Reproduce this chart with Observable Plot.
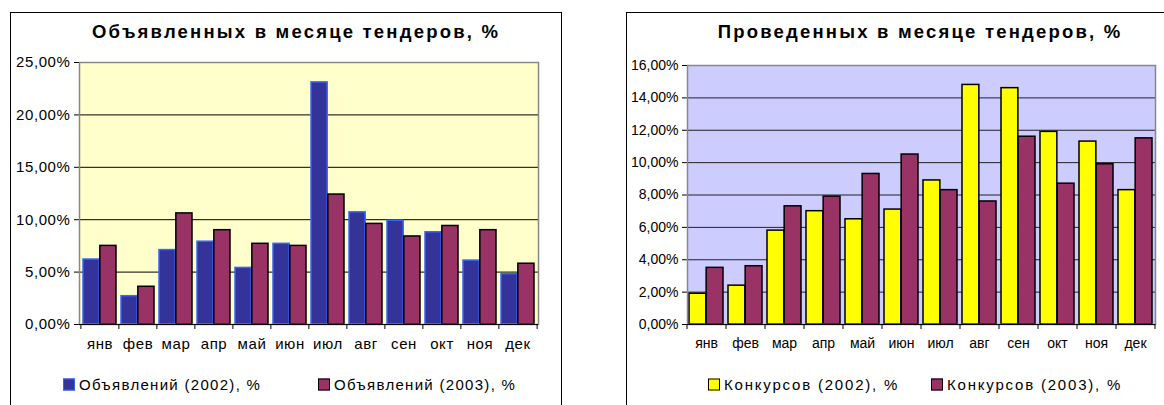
<!DOCTYPE html>
<html><head><meta charset="utf-8">
<script src="https://cdn.jsdelivr.net/npm/d3@7"></script>
<script src="https://cdn.jsdelivr.net/npm/@observablehq/plot@0.6"></script>
<style>
html,body{margin:0;padding:0;background:#fff;overflow:hidden;width:1164px;height:405px;font-family:"Liberation Sans",Arial,sans-serif;color:#000}
.frame{position:absolute;border:1px solid #000;box-sizing:border-box}
.title{position:absolute;font-weight:bold;font-size:18.5px;letter-spacing:2.2px;white-space:nowrap;transform:translate(-50%,-50%)}
.chart{position:absolute}
.leg{position:absolute;font-size:15px;letter-spacing:1.3px;white-space:nowrap;transform:translateY(-50%);display:flex;align-items:center}
.leg.r{letter-spacing:1.8px}
.sw{display:inline-block;width:10px;height:10px;margin-right:4px;box-sizing:content-box}
#c1 svg text{font-size:15px !important;letter-spacing:0.6px;font-family:"Liberation Sans",Arial,sans-serif}
#c2 svg text{font-size:14px !important;letter-spacing:0px;font-family:"Liberation Sans",Arial,sans-serif}
</style></head><body>
<div class="frame" style="left:10px;top:12px;width:552px;height:420px"></div>
<div class="frame" style="left:626px;top:12px;width:600px;height:420px"></div>
<div class="title" style="left:296px;top:32px">Объявленных в месяце тендеров, %</div>
<div class="title" style="left:920px;top:32px">Проведенных в месяце тендеров, %</div>
<div id="c1" class="chart" style="left:0;top:50px"></div>
<div id="c2" class="chart" style="left:626px;top:50px"></div>
<div class="leg" style="left:63px;top:384px"><span class="sw" style="background:#333399;border:1px solid #3366ff"></span>Объявлений (2002), %</div>
<div class="leg" style="left:318px;top:384px"><span class="sw" style="background:#993366;border:1px solid #000"></span>Объявлений (2003), %</div>
<div class="leg r" style="left:708px;top:384px"><span class="sw" style="background:#ffff00;border:1px solid #000"></span>Конкурсов (2002), %</div>
<div class="leg r" style="left:931px;top:384px"><span class="sw" style="background:#993366;border:1px solid #000"></span>Конкурсов (2003), %</div>
<script>
const months = ["янв","фев","мар","апр","май","июн","июл","авг","сен","окт","ноя","дек"];
const announced2002 = [6.2, 2.7, 7.1, 7.9, 5.4, 7.7, 23.1, 10.7, 9.9, 8.8, 6.1, 4.8];
const announced2003 = [7.5, 3.6, 10.6, 9.0, 7.7, 7.5, 12.4, 9.6, 8.4, 9.4, 9.0, 5.8];
const held2002 = [1.9, 2.4, 5.8, 7.0, 6.5, 7.1, 8.9, 14.8, 14.6, 11.9, 11.3, 8.3];
const held2003 = [3.5, 3.6, 7.3, 7.9, 9.3, 10.5, 8.3, 7.6, 11.6, 8.7, 9.9, 11.5];
const yTicksLeft = [0, 5, 10, 15, 20, 25];
const yTicksRight = [0, 2, 4, 6, 8, 10, 12, 14, 16];

const fmt = d => d.toFixed(2).replace(".", ",") + "%";

function chart({width, height, ml, mr, mt, mb, ymax, ticks, a, b, colA, strokeA, colB, bg, grid}) {
  const pi = 0.12, po = 0.06;
  const plotW = width - ml - mr;
  const step = plotW / (months.length - pi + 2 * po);
  const half = step * (1 - pi) / 2;
  const rows = months.map((m, i) => ({m, a: a[i], b: b[i]}));
  return Plot.plot({
    width, height,
    marginLeft: ml, marginRight: mr, marginTop: mt, marginBottom: mb,
    style: {fontFamily: "'Liberation Sans', Arial, sans-serif", fontSize: "14px", color: "#000", background: "transparent", overflow: "visible"},
    x: {type: "band", domain: months, paddingInner: pi, paddingOuter: po, label: null, tickSize: 0, tickPadding: 14},
    y: {domain: [0, ymax], ticks, tickFormat: fmt, label: null, tickSize: 5, tickPadding: 4, line: true},
    marks: [
      Plot.frame({fill: bg}),
      Plot.ruleY(ticks, {stroke: grid, strokeWidth: 1}),
      Plot.barY(rows, {x: "m", y: "a", fill: colA, stroke: strokeA, strokeWidth: 1.5, insetRight: half}),
      Plot.barY(rows, {x: "m", y: "b", fill: colB, stroke: "#000", strokeWidth: 1.5, insetLeft: half}),
      Plot.frame({stroke: "#888", strokeWidth: 1.5}),
      Plot.ruleY([0], {stroke: "#000", strokeWidth: 1}),
      Plot.ruleX(months, {x: d => d, y1: 0, y2: 0, insetBottom: -5, dx: -step / 2, stroke: "#000"}),
      Plot.ruleX(months.slice(-1), {x: d => d, y1: 0, y2: 0, insetBottom: -5, dx: step / 2, stroke: "#000"})
    ]
  });
}

document.getElementById("c1").append(chart({
  width: 561, height: 315, ml: 79, mr: 23, mt: 12, mb: 41, ymax: 25, ticks: yTicksLeft,
  a: announced2002, b: announced2003, colA: "#333399", strokeA: "#3366ff", colB: "#993366", bg: "#ffffcc", grid: "#000"
}));
document.getElementById("c2").append(chart({
  width: 538, height: 315, ml: 61, mr: 9, mt: 15, mb: 41, ymax: 16, ticks: yTicksRight,
  a: held2002, b: held2003, colA: "#ffff00", strokeA: "#000", colB: "#993366", bg: "#ccccff", grid: "#222"
}));
</script>
</body></html>
